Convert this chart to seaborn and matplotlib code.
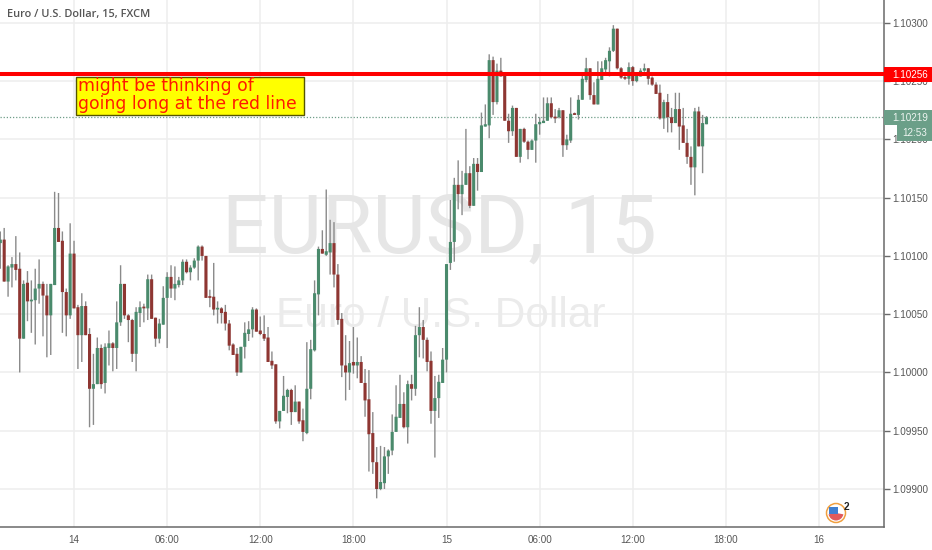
import numpy as np
import pandas as pd
import matplotlib
matplotlib.use("Agg")
import matplotlib.pyplot as plt
from matplotlib.patches import Rectangle, Circle, Wedge
from matplotlib.transforms import IdentityTransform
import seaborn as sns

# prices are written as points above 1.10000 (1 point = 0.00001)
opens = [111,114,78,90,93,89,29,77,61,62,
72,76,66,49,75,124,113,69,49,102,
56,32,57,33,-14,-10,21,-9,21,25,
21,43,76,49,45,16,51,56,55,80,
47,29,41,64,82,72,75,79,95,86,
90,96,108,100,65,65,54,55,52,42,
24,16,0,22,33,37,54,36,33,30,
10,7,-42,-33,-21,-15,-34,-25,-41,-52,
-14,19,67,106,101,103,111,84,46,6,
0,9,6,9,-9,-23,-52,-77,-100,-95,
-72,-67,-51,-39,-27,-47,-10,-14,32,39,
28,10,-33,-22,-9,11,94,112,161,153,
161,171,143,179,172,211,212,268,232,259,
255,216,207,227,185,209,198,191,199,213,
214,216,231,219,219,225,195,199,222,221,
234,251,261,238,230,251,260,267,276,295,
261,253,252,262,250,254,259,261,253,247,
240,218,232,219,214,226,212,197,185,176,
224,194,213]
closes = [114,78,91,93,88,29,76,61,62,72,
76,66,49,76,124,112,69,49,102,55,
32,57,32,-14,-10,21,-10,22,25,21,
43,76,49,45,16,52,56,55,80,46,
29,42,64,82,72,76,79,95,86,90,
96,108,100,64,64,54,55,51,42,23,
15,0,22,34,37,54,35,33,29,9,
6,-42,-33,-20,-15,-34,-25,-42,-51,-14,
20,68,106,102,104,111,84,45,6,0,
8,6,9,-9,-24,-53,-77,-100,-94,-72,
-67,-51,-38,-27,-47,-10,-14,32,39,28,
9,-33,-22,-8,11,93,112,161,153,161,
171,143,179,172,212,213,268,232,259,254,
216,207,227,185,209,198,191,199,213,215,
216,231,219,218,225,195,200,222,221,234,
252,261,238,230,252,261,268,276,295,261,
253,252,262,250,255,259,261,252,247,239,
218,232,219,214,226,211,197,185,176,224,
194,214,219]
highs = [121,124,92,99,117,103,79,87,79,89,
97,78,76,76,155,154,121,72,128,113,
58,68,61,38,16,30,24,25,36,26,
61,92,76,50,46,56,61,59,84,84,
47,46,74,86,92,91,82,97,97,92,
98,109,109,100,71,94,61,56,58,45,
25,21,22,43,44,56,55,48,49,39,
18,7,-33,-3,-14,-14,-11,-25,-31,26,
28,79,108,122,157,131,129,93,51,32,
27,39,30,14,3,2,-34,-64,-63,-64,
-66,-36,-11,-2,-17,-7,-2,40,56,45,
30,18,-3,-2,21,93,148,167,182,173,
209,177,184,184,223,230,273,271,265,270,
255,222,229,227,209,210,199,200,222,219,
236,236,236,226,227,225,204,236,223,238,
256,270,261,249,267,267,270,279,298,295,
262,256,266,263,256,261,265,261,254,249,
247,234,239,227,240,240,227,209,194,227,
228,221,220]
lows = [89,78,65,73,79,0,29,44,34,24,
59,31,13,15,75,112,34,31,46,55,
3,9,32,-47,-45,-10,-14,-18,6,1,
3,40,46,26,9,1,39,43,45,46,
22,25,41,21,64,62,73,75,85,79,
89,79,96,64,56,49,42,42,36,19,
15,-3,0,12,27,30,35,32,27,9,
3,-44,-48,-33,-35,-45,-34,-44,-59,-53,
-23,18,49,102,100,84,73,41,-4,-24,
-15,-1,-5,-9,-38,-85,-87,-108,-101,-100,
-87,-71,-51,-39,-48,-61,-24,-20,13,12,
1,-44,-73,-39,-9,0,88,95,140,135,
161,141,143,156,172,211,201,221,230,254,
216,197,203,185,180,197,183,191,180,204,
214,216,218,214,218,185,191,197,221,217,
234,249,234,230,230,251,256,254,275,260,
252,251,247,246,249,254,258,247,246,239,
217,209,206,206,214,191,197,179,161,152,
194,171,213]

time_ticks = [19, 43, 67, 91, 115, 139, 163, 187, 211]
time_labels = ["14", "06:00", "12:00", "18:00", "15", "06:00", "12:00", "18:00", "16"]
price_ticks = [1.0990, 1.0995, 1.1000, 1.1005, 1.1010, 1.1015, 1.1020, 1.1025, 1.1030]
alert_price = 1.10256
last_price = 1.10219

UP = "#4a8a6c"
DOWN = "#8e3632"
WICK = "#8a8a8a"
GRID = "#eeeeee"
AXIS = "#6a6a6a"
TEXT = "#555555"
SANS = "Liberation Sans"
TICK_SIZE = 7.1

sns.set_theme(style="white", rc={"axes.facecolor": "white", "figure.facecolor": "white"})

to_price = lambda a: 1.1 + np.asarray(a, dtype=float) / 1e5
df = pd.DataFrame({"i": np.arange(len(opens)), "open": to_price(opens), "close": to_price(closes),
                   "high": to_price(highs), "low": to_price(lows)})
df["bottom"] = df[["open", "close"]].min(axis=1)
df["body"] = (df["close"] - df["open"]).abs().clip(lower=1.5e-5)
df["up"] = df["close"] >= df["open"]

W, H = 932, 550
fig = plt.figure(figsize=(W / 100, H / 100), dpi=100)
ax = fig.add_axes([0, 23 / H, 884 / W, 527 / H])
ax.set_axisbelow(True)


def box(x0, y0, x1, y1, **kw):
    fig.add_artist(Rectangle((x0, H - y1), x1 - x0, y1 - y0, transform=IdentityTransform(), **kw))


def label(x, y, s, **kw):
    fig.text(x / W, 1 - y / H, s, **kw)


wicks = ax.vlines(df["i"], df["low"], df["high"], color=WICK, lw=1.0, zorder=3)
wicks.set_snap(False)
for is_up, colour in ((True, UP), (False, DOWN)):
    part = df[df["up"] == is_up]
    sns.barplot(data=part, x="i", y="body", bottom=part["bottom"], native_scale=True, width=0.8,
                color=colour, saturation=1, errorbar=None, linewidth=0, ax=ax, zorder=4)
for bar in ax.patches:
    bar.set_snap(False)

ax.set_xlim(-0.08, 227.75)
ax.set_ylim(1.1 - 132.6e-5, 1.1 + 319.6e-5)
ax.set_xlabel("")
ax.set_ylabel("")
ax.set_xticks(time_ticks, time_labels)
ax.set_yticks(price_ticks, [f"{p:.5f}" for p in price_ticks])
ax.yaxis.tick_right()
ax.grid(True, color=GRID, lw=1.1)
ax.tick_params(axis="both", length=4, width=1, color=AXIS, labelcolor=TEXT, labelsize=TICK_SIZE)
ax.tick_params(axis="y", pad=1.8)
ax.tick_params(axis="x", pad=2)
for t in ax.get_xticklabels() + ax.get_yticklabels():
    t.set_family(SANS)
for side in ("top", "left"):
    ax.spines[side].set_visible(False)
for side in ("right", "bottom"):
    ax.spines[side].set_color(AXIS)
    ax.spines[side].set_linewidth(1.1)

# watermark
ax.text(439.5 / 884, 1 - 253 / 527, "EURUSD, 15", transform=ax.transAxes, ha="center", va="baseline",
        family="Roboto", fontsize=59, color="#e6e6e6", zorder=1)
ax.text(441 / 884, 1 - 327 / 527, "Euro / U.S. Dollar", transform=ax.transAxes, ha="center", va="baseline",
        family=SANS, fontsize=30.5, color="#ebebeb", zorder=1)

# price lines
ax.axhline(last_price, color="#6f9d88", lw=0.9, ls=(0, (1, 1.5)), zorder=2)
ax.axhline(alert_price, color="#ff0000", lw=2.9, zorder=6)

# annotation
box(75.5, 76.5, 303.5, 115, facecolor="#ffff00", edgecolor="#555500", lw=1, zorder=7)
label(78, 86, "might be thinking of", family="DejaVu Sans", fontsize=12.45, color="#ff1a00", va="center", zorder=8)
label(78, 104, "going long at the red line", family="DejaVu Sans", fontsize=12.45, color="#ff1a00", va="center", zorder=8)

# title
label(7, 14.5, "Euro / U.S. Dollar, 15, FXCM", family="Open Sans", fontsize=7.9, weight="semibold",
      color="#555555", va="center")

# right-hand price flags
box(884, 67, 932, 82, facecolor="#ff0000", edgecolor="none", zorder=7)
label(892, 75, f"{alert_price:.5f}", family=SANS, fontsize=TICK_SIZE, color="white", va="center", zorder=8)
box(884, 110, 932, 125, facecolor="#6b9f88", edgecolor="none", zorder=7)
label(892, 118, f"{last_price:.5f}", family=SANS, fontsize=TICK_SIZE, color="#eef5f1", va="center", zorder=8)
box(897, 125, 932, 141, facecolor="#6b9f88", edgecolor="none", zorder=7)
label(902, 133.5, "12:53", family=SANS, fontsize=TICK_SIZE, color="#eef5f1", va="center", zorder=8)

# calendar badge
cx, cy = 836, H - 513
it = IdentityTransform()
fig.add_artist(Circle((cx, cy), 9.5, transform=it, fc="white", ec="#f0a040", lw=1.1))
fig.add_artist(Wedge((cx, cy), 7.5, 190, 350, transform=it, fc="#e05a5a", ec="none"))
fig.add_artist(Rectangle((cx - 7, cy - 1), 9, 7, transform=it, fc="#3f7fd0", ec="none"))
label(844, 507.5, "2", family=SANS, fontsize=7.2, weight="bold", color="#222222", va="center")

fig.savefig("out.png", dpi=100)
